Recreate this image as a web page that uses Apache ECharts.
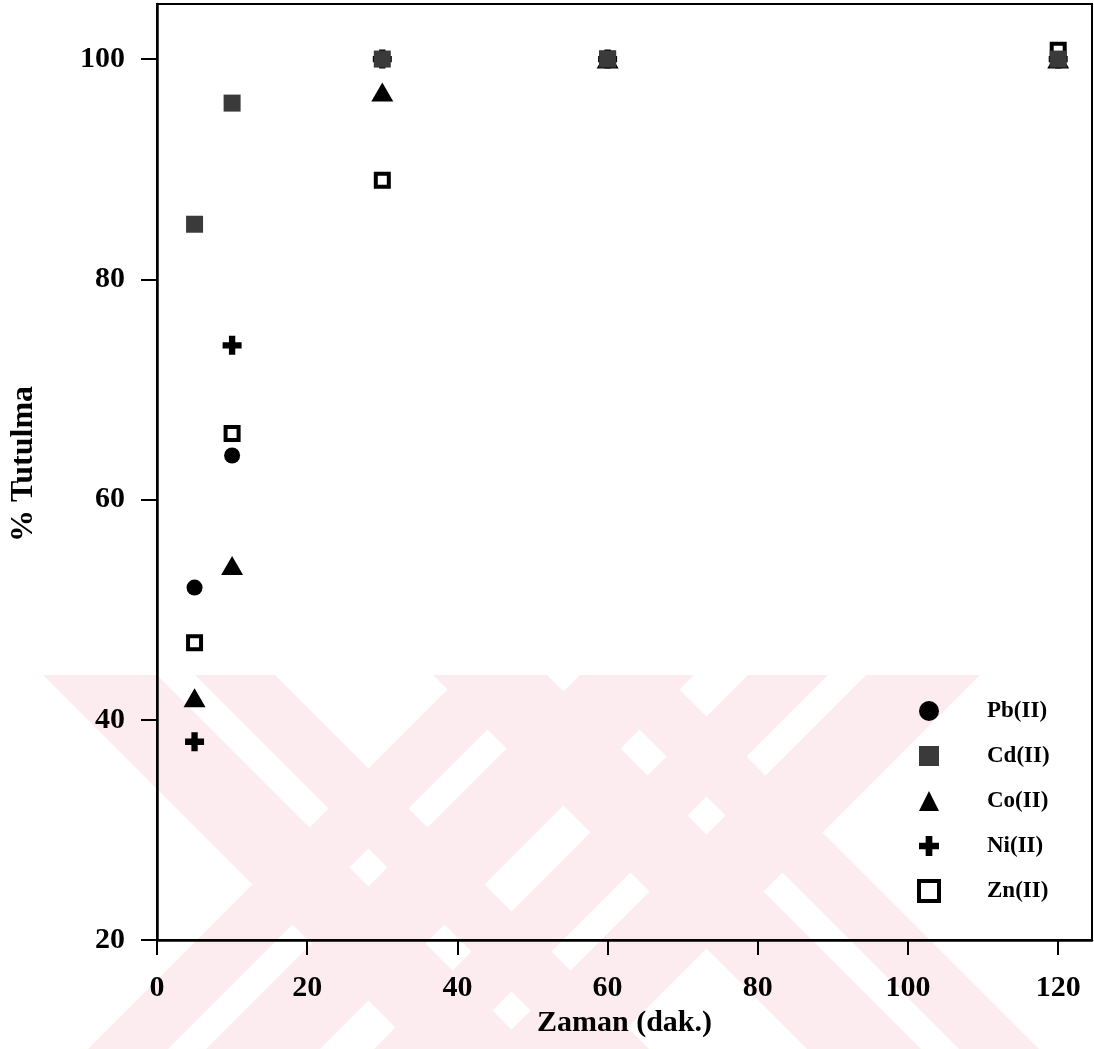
<!DOCTYPE html>
<html>
<head>
<meta charset="utf-8">
<script src="https://cdn.jsdelivr.net/npm/echarts@6/dist/echarts.min.js"></script>
<style>
  html, body { margin: 0; padding: 0; background: #ffffff; }
  #chart { width: 1094px; height: 1049px; }
</style>
</head>
<body>
<div id="chart"></div>
<script>
// Contact time (min) and percent uptake of each metal ion
const times = [5, 10, 30, 60, 120];
const pbValues = [52, 64, 100, 100, 100];
const cdValues = [85, 96, 100, 100, 100];
const coValues = [42, 54, 97, 100, 100];
const niValues = [38, 74, 100, 100, 100];
const znValues = [47, 66, 89, 100, 100.8];

const xTicks = [0, 20, 40, 60, 80, 100, 120];
const yTicks = [20, 40, 60, 80, 100];

const seriesNames = ['Pb(II)', 'Cd(II)', 'Co(II)', 'Ni(II)', 'Zn(II)'];

const FONT = '"Liberation Serif", "Times New Roman", serif';
const plusPath = 'path://M4,0H8V4H12V8H8V12H4V8H0V4H4Z';

function pairs(values) {
  return times.map((t, i) => [t, values[i]]);
}

// faint diagonal background bands
function band(xl, xr, dir) {
  const d = 374;
  return [[xl, 675], [xr, 675], [xr + dir * d, 1049], [xl + dir * d, 1049]];
}
const bandShapes = [
  band(43, 157, 1), band(195, 275, 1),
  band(462, 542, -1), band(580, 694, -1),
  band(433, 547, 1), band(585, 665, 1),
  band(748, 828, -1), band(866, 980, -1)
];

const chart = echarts.init(document.getElementById('chart'), null, { renderer: 'canvas' });

const option = {
  backgroundColor: '#ffffff',
  animation: false,
  graphic: {
    elements: bandShapes.map(pts => ({
      type: 'polygon',
      z: -10,
      silent: true,
      shape: { points: pts },
      style: { fill: '#fdecef' }
    }))
  },
  grid: {
    left: 157,
    right: 2,
    top: 4,
    bottom: 109,
    outerBoundsMode: 'none',
    containLabel: false,
    show: true,
    borderColor: '#000',
    borderWidth: 2,
    backgroundColor: 'transparent'
  },
  xAxis: {
    type: 'value',
    min: 0,
    max: 124.5,
    interval: 20,
    name: 'Zaman (dak.)',
    nameLocation: 'middle',
    nameGap: 66,
    nameTextStyle: { fontFamily: FONT, fontWeight: 'bold', fontSize: 30, color: '#000' },
    axisLine: { show: true, lineStyle: { color: '#000', width: 2.5 } },
    axisTick: { show: true, inside: false, length: 15, customValues: xTicks, lineStyle: { color: '#000', width: 2 } },
    axisLabel: {
      customValues: xTicks,
      margin: 33,
      fontFamily: FONT, fontWeight: 'bold', fontSize: 30, color: '#000'
    },
    splitLine: { show: false }
  },
  yAxis: {
    type: 'value',
    min: 20,
    max: 105,
    interval: 20,
    name: '% Tutulma',
    nameLocation: 'middle',
    nameGap: 117,
    nameRotate: 90,
    nameTextStyle: { fontFamily: FONT, fontWeight: 'bold', fontSize: 32, color: '#000', padding: [0, 0, 0, 16] },
    axisLine: { show: true, lineStyle: { color: '#000', width: 2.5 } },
    axisTick: { show: true, inside: false, length: 16, customValues: yTicks, lineStyle: { color: '#000', width: 2 } },
    axisLabel: {
      customValues: yTicks,
      margin: 32,
      fontFamily: FONT, fontWeight: 'bold', fontSize: 30, color: '#000'
    },
    splitLine: { show: false }
  },
  legend: {
    orient: 'vertical',
    left: 912,
    top: 693,
    itemWidth: 20,
    itemHeight: 20,
    itemGap: 19,
    symbolKeepAspect: true,
    formatter: name => '{t|' + name + '}',
    textStyle: {
      fontFamily: FONT, fontWeight: 'bold', fontSize: 23, lineHeight: 26, color: '#000',
      rich: {
        t: { fontFamily: FONT, fontWeight: 'bold', fontSize: 23, lineHeight: 26, color: '#000', padding: [0, 0, 0, 43] }
      }
    },
    data: [
      { name: 'Pb(II)' },
      { name: 'Cd(II)' },
      { name: 'Co(II)' },
      { name: 'Ni(II)' },
      { name: 'Zn(II)', itemStyle: { color: '#fff', borderColor: '#000', borderWidth: 4 } }
    ]
  },
  series: [
    {
      name: seriesNames[0], type: 'scatter', z: 2,
      symbol: 'circle', symbolSize: 16,
      itemStyle: { color: '#000', opacity: 1 },
      data: pairs(pbValues)
    },
    {
      name: seriesNames[1], type: 'scatter', z: 6,
      symbol: 'rect', symbolSize: 17,
      itemStyle: { color: '#3a3a3a', opacity: 1 },
      data: pairs(cdValues)
    },
    {
      name: seriesNames[2], type: 'scatter', z: 4,
      symbol: 'triangle', symbolSize: [22, 19],
      itemStyle: { color: '#000', opacity: 1 },
      data: pairs(coValues)
    },
    {
      name: seriesNames[3], type: 'scatter', z: 3,
      symbol: plusPath, symbolSize: 19,
      itemStyle: { color: '#000', opacity: 1 },
      data: pairs(niValues)
    },
    {
      name: seriesNames[4], type: 'scatter', z: 5,
      symbol: 'rect', symbolSize: 13,
      itemStyle: { color: '#fff', borderColor: '#000', borderWidth: 4, opacity: 1 },
      data: pairs(znValues)
    }
  ]
};

chart.setOption(option);
</script>
</body>
</html>
